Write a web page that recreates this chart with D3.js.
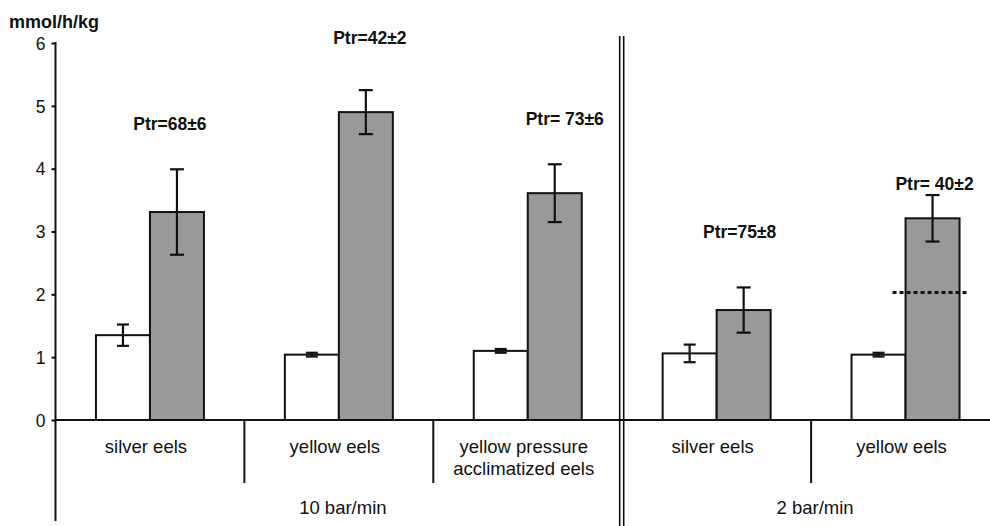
<!DOCTYPE html>
<html>
<head>
<meta charset="utf-8">
<script src="https://cdn.jsdelivr.net/npm/d3@7"></script>
<style>
  html, body { margin: 0; padding: 0; background: #fff; }
  svg { display: block; font-family: "Liberation Sans", Arial, sans-serif; }
</style>
</head>
<body>
<svg id="chart" width="990" height="526"></svg>
<script>
// ---- data ----
const categories = ["silver eels", "yellow eels", "yellow pressure\nacclimatized eels", "silver eels", "yellow eels"];
const controlValues = [1.35, 1.04, 1.10, 1.06, 1.04];
const controlErrors = [0.17, 0.03, 0.03, 0.14, 0.03];
const treatedValues = [3.31, 4.90, 3.61, 1.75, 3.21];
const treatedErrors = [0.68, 0.35, 0.46, 0.36, 0.37];
const ptrLabels = ["Ptr=68±6", "Ptr=42±2", "Ptr= 73±6", "Ptr=75±8", "Ptr= 40±2"];
const ptrLabelLevels = [4.62, 5.98, 4.70, 2.90, 3.66];   // vertical level in axis units
const rateGroups = ["10 bar/min", "2 bar/min"];
const rateGroupMembers = [[0, 1, 2], [3, 4]];
const referenceLevel = 2.03;   // dotted line, yellow eels 2 bar/min
const yTicks = [0, 1, 2, 3, 4, 5, 6];
const yLabel = "mmol/h/kg";

// ---- layout ----
const svg = d3.select("#chart");
const x = d3.scaleBand().domain(d3.range(categories.length)).range([55.5, 1000]).padding(0);
const y = d3.scaleLinear().domain([0, 6]).range([420, 43]);
const barW = 54;
const ink = "#111";
const gray = "#999999";

const g = svg.append("g");

// y axis
const yAxis = d3.axisLeft(y).tickValues(yTicks).tickSize(4).tickPadding(6).tickFormat(d3.format("d"));
const ya = g.append("g").attr("transform", "translate(55.5,0)").call(yAxis);
ya.select(".domain").remove();
ya.selectAll(".tick line").attr("stroke", ink).attr("stroke-width", 2);
ya.selectAll(".tick text").attr("fill", ink).attr("font-size", 17.5).attr("dy", "0.36em");
g.append("line").attr("x1", 55.5).attr("x2", 55.5).attr("y1", y(6) - 1).attr("y2", 521)
  .attr("stroke", ink).attr("stroke-width", 2);

g.append("text").attr("x", 9).attr("y", 28).attr("font-size", 18).attr("font-weight", "bold")
  .attr("fill", ink).text(yLabel);

// x axis line
g.append("line").attr("x1", 55.5).attr("x2", 990).attr("y1", y(0)).attr("y2", y(0))
  .attr("stroke", ink).attr("stroke-width", 2);

// category dividers
[1, 2, 4].forEach(i => {
  g.append("line").attr("x1", x(i)).attr("x2", x(i)).attr("y1", y(0)).attr("y2", 483)
    .attr("stroke", ink).attr("stroke-width", 2);
});
// double separator between rate groups
[-2.5, 1.5].forEach(o => {
  g.append("line").attr("x1", x(3) + o).attr("x2", x(3) + o).attr("y1", 36).attr("y2", 526)
    .attr("stroke", ink).attr("stroke-width", 1.6);
});

const cx = i => x(i) + x.bandwidth() / 2;

// bars
const idx = d3.range(categories.length);
g.selectAll("rect.ctrl").data(idx).join("rect").attr("class", "ctrl")
  .attr("x", i => cx(i) - barW).attr("width", barW)
  .attr("y", i => y(controlValues[i])).attr("height", i => y(0) - y(controlValues[i]))
  .attr("fill", "#fff").attr("stroke", ink).attr("stroke-width", 2);
g.selectAll("rect.trt").data(idx).join("rect").attr("class", "trt")
  .attr("x", i => cx(i)).attr("width", barW)
  .attr("y", i => y(treatedValues[i])).attr("height", i => y(0) - y(treatedValues[i]))
  .attr("fill", gray).attr("stroke", ink).attr("stroke-width", 2);

// error bars
function errBar(xc, v, e, cap) {
  const eg = g.append("g").attr("stroke", ink).attr("stroke-width", 2.2);
  eg.append("line").attr("x1", xc).attr("x2", xc).attr("y1", y(v + e)).attr("y2", y(v - e));
  eg.append("line").attr("x1", xc - cap / 2).attr("x2", xc + cap / 2).attr("y1", y(v + e)).attr("y2", y(v + e));
  eg.append("line").attr("x1", xc - cap / 2).attr("x2", xc + cap / 2).attr("y1", y(v - e)).attr("y2", y(v - e));
}
idx.forEach(i => {
  errBar(cx(i) - barW / 2, controlValues[i], controlErrors[i], 12);
  errBar(cx(i) + barW / 2, treatedValues[i], treatedErrors[i], 14);
});

// dotted reference line
g.append("line").attr("x1", cx(4) - 13).attr("x2", cx(4) + 63)
  .attr("y1", y(referenceLevel)).attr("y2", y(referenceLevel))
  .attr("stroke", ink).attr("stroke-width", 3).attr("stroke-dasharray", "4,3");

// Ptr labels
const ptrOffsets = [20, 31, 37, 23, 29];
idx.forEach(i => {
  g.append("text").attr("x", cx(i) + ptrOffsets[i]).attr("y", y(ptrLabelLevels[i]))
    .attr("text-anchor", "middle").attr("font-size", 17.5).attr("font-weight", "bold")
    .attr("fill", ink).text(ptrLabels[i]);
});

// category labels
idx.forEach(i => {
  const lines = categories[i].split("\n");
  const t = g.append("text").attr("text-anchor", "middle").attr("font-size", 18.5).attr("fill", ink);
  lines.forEach((ln, k) => {
    t.append("tspan").attr("x", cx(i) - 4).attr("y", 453 + k * 22).text(ln);
  });
});

// rate group labels
rateGroups.forEach((r, k) => {
  const m = rateGroupMembers[k];
  const xc = (cx(m[0]) + cx(m[m.length - 1])) / 2 + 4;
  g.append("text").attr("x", xc).attr("y", 514).attr("text-anchor", "middle")
    .attr("font-size", 18.5).attr("fill", ink).text(r);
});
</script>
</body>
</html>
